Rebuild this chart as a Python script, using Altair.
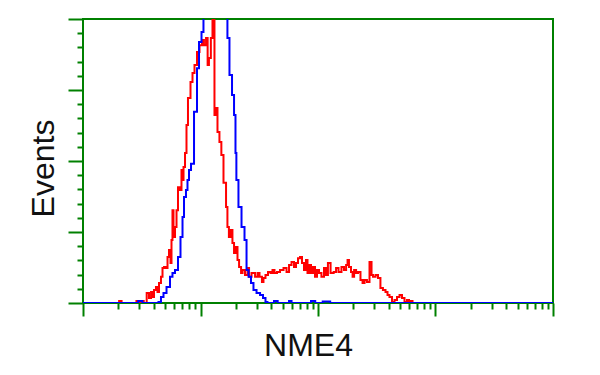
import altair as alt
import pandas as pd

# Fluorescence intensity (log scale) and event counts (top of frame = 100)
blue_x = [1.0, 2.9, 3.0, 3.1, 3.3, 4.26, 4.52, 4.70, 4.99, 5.29, 5.72, 5.83, 6.31, 6.56,
          6.96, 7.10, 7.38, 7.67, 7.83, 8.14, 8.47, 9.16, 9.52, 9.91, 10.5, 10.7,
          16.8, 17.1, 18.2, 18.9, 19.7, 20.0, 20.4, 21.7, 23.0, 24.4, 24.9, 26.4,
          27.4, 29.1, 30.9, 33.4, 34.7, 36.8, 37.5, 40.6, 43.9, 46.9, 55.6, 57.8,
          61.3, 85.5, 88.9, 92.5, 97.0, 124, 130, 10000]
blue_y = [0, 0, 0.7, 0.7, 0, 0, 0.35, 2.1, 3.5, 5.6, 9.2, 10.6, 11.6, 16.2,
          23.2, 30.3, 37.3, 39.8, 43.3, 46.8, 49.0, 67.3, 82.7, 91.9, 95.4, 120,
          120, 93.3, 80.3, 73.2, 66.2, 52.8, 43.3, 33.8, 26.8, 22.2, 11.6, 9.2,
          7.0, 4.6, 3.5, 2.8, 1.8, 0.35, 0, 0, 0.7, 0, 0, 0.7,
          0, 0, 0.7, 0.7, 0, 0.5, 0, 0]

red_x = [1.0, 2.0, 2.06, 2.2, 2.8, 2.9, 3.06, 3.18, 3.4, 3.57, 3.72, 3.87, 3.94, 4.10,
         4.26, 4.35, 4.52, 4.70, 4.80, 4.99, 5.19, 5.29, 5.50, 5.61, 5.72, 5.83,
         5.95, 6.19, 6.31, 6.56, 6.82, 6.96, 7.10, 7.24, 7.53, 7.67, 7.98, 8.47,
         8.63, 9.16, 9.52, 10.1, 10.5, 10.9, 11.4, 11.6, 12.0, 12.5, 12.8, 13.0,
         13.3, 13.8, 14.1, 14.9, 15.2, 16.2, 16.8, 17.1, 17.8, 18.5, 18.9, 19.7,
         20.4, 20.9, 21.7, 22.6, 23.0, 24.9, 25.4, 26.4, 28.0, 30.3, 30.9, 32.7,
         34.0, 34.7, 36.8, 38.3, 40.6, 41.4, 43.9, 45.7, 49.4, 52.4, 55.6, 57.8,
         61.3, 63.7, 66.3, 68.9, 71.7, 74.5, 77.5, 80.6, 82.2, 85.5, 88.9, 92.5,
         96.2, 100, 104, 110, 115, 119, 124, 132, 140, 145, 154, 163,
         170, 177, 180, 187, 195, 199, 207, 215, 223, 237, 242, 256,
         266, 283, 288, 300, 318, 330, 350, 364, 387, 394, 418, 435,
         461, 480, 509, 529, 561, 583, 607, 631, 644, 10000]
red_y = [0, 0, 0.7, 0, 0, 0.7, 0, 0.7, 0, 3.5, 1.8, 3.9, 2.1, 4.6,
         5.6, 3.9, 7.0, 9.2, 12.3, 12.7, 12.3, 16.2, 18.7, 14.1, 22.2, 32.7,
         23.2, 26.8, 32.7, 40.8, 39.8, 46.8, 43.3, 47.9, 52.8, 62.7, 72.2, 77.8,
         81.0, 83.8, 88.4, 90.8, 92.6, 90.8, 93.3, 83.8, 86.3, 93.3, 120, 120,
         66.2, 68.7, 60.2, 56.7, 52.1, 42.3, 33.8, 26.8, 23.2, 25.7, 21.1, 17.6,
         19.7, 15.1, 12.7, 10.6, 11.6, 9.9, 12.3, 9.2, 10.6, 9.2, 10.6, 9.2,
         7.4, 8.8, 9.9, 10.9, 10.6, 11.6, 10.6, 10.9, 11.6, 12.3, 10.9, 13.4,
         14.4, 12.7, 14.1, 15.8, 16.2, 14.1, 11.6, 15.1, 10.6, 13.4, 10.6, 12.7,
         9.2, 11.6, 10.6, 9.2, 12.3, 9.9, 14.1, 10.6, 10.9, 12.3, 10.9, 12.7,
         11.6, 13.4, 15.1, 12.7, 10.9, 9.2, 11.6, 10.6, 10.9, 8.1, 7.0, 8.1,
         7.4, 14.4, 9.9, 9.2, 9.9, 8.8, 5.3, 4.6, 3.9, 2.8, 2.1, 0.35,
         1.1, 2.1, 2.8, 1.8, 0.35, 1.1, 0.35, 0.7, 0, 0]

x_tick_values = [m * 10 ** d for d in range(4) for m in range(1, 10)] + [10000]
y_tick_values = list(range(0, 101, 5))

blue = pd.DataFrame({"x": blue_x, "y": blue_y})
red = pd.DataFrame({"x": red_x, "y": red_y})

GREEN = "#008000"
FONT = "Liberation Sans"

x_axis = alt.Axis(
    values=x_tick_values, labels=False, domain=False, grid=False,
    tickColor=GREEN, tickWidth=2,
    tickSize={"condition": {"test": "abs(log(datum.value)/LN10 - round(log(datum.value)/LN10)) < 0.001", "value": 13}, "value": 6},
    title="NME4", titleFont=FONT, titleFontSize=32, titleFontWeight="normal",
    titleColor="#111111", titleX=225, titleY=52, titleBaseline="alphabetic",
    titleAlign="center",
)
y_axis = alt.Axis(
    values=y_tick_values, labels=False, domain=False, grid=False,
    tickColor=GREEN, tickWidth=2,
    tickSize={"condition": {"test": "datum.value % 25 === 0", "value": 15}, "value": 6},
    title="Events", titleFont=FONT, titleFontSize=32, titleFontWeight="normal",
    titleColor="#111111", titleX=-30, titleY=149, titleAngle=270,
    titleBaseline="alphabetic", titleAlign="center",
)

xs = alt.Scale(type="log", domain=[1, 10000])
ys = alt.Scale(domain=[0, 100])

red_line = alt.Chart(red).mark_line(
    interpolate="step", color="#ff0000", strokeWidth=2, clip=True
).encode(
    x=alt.X("x:Q", scale=xs, axis=x_axis),
    y=alt.Y("y:Q", scale=ys, axis=y_axis),
)
blue_line = alt.Chart(blue).mark_line(
    interpolate="step", color="#0000ff", strokeWidth=2, clip=True
).encode(
    x=alt.X("x:Q", scale=xs, axis=x_axis),
    y=alt.Y("y:Q", scale=ys, axis=y_axis),
)

chart = alt.layer(red_line, blue_line).properties(
    width=470, height=284,
    autosize=alt.AutoSizeParams(type="none"),
    padding={"left": 75, "top": 11, "right": 39, "bottom": 64},
    background="white",
).configure_view(stroke=GREEN, strokeWidth=2)

chart.save("out.html", embed_options={"renderer": "svg", "actions": False})
